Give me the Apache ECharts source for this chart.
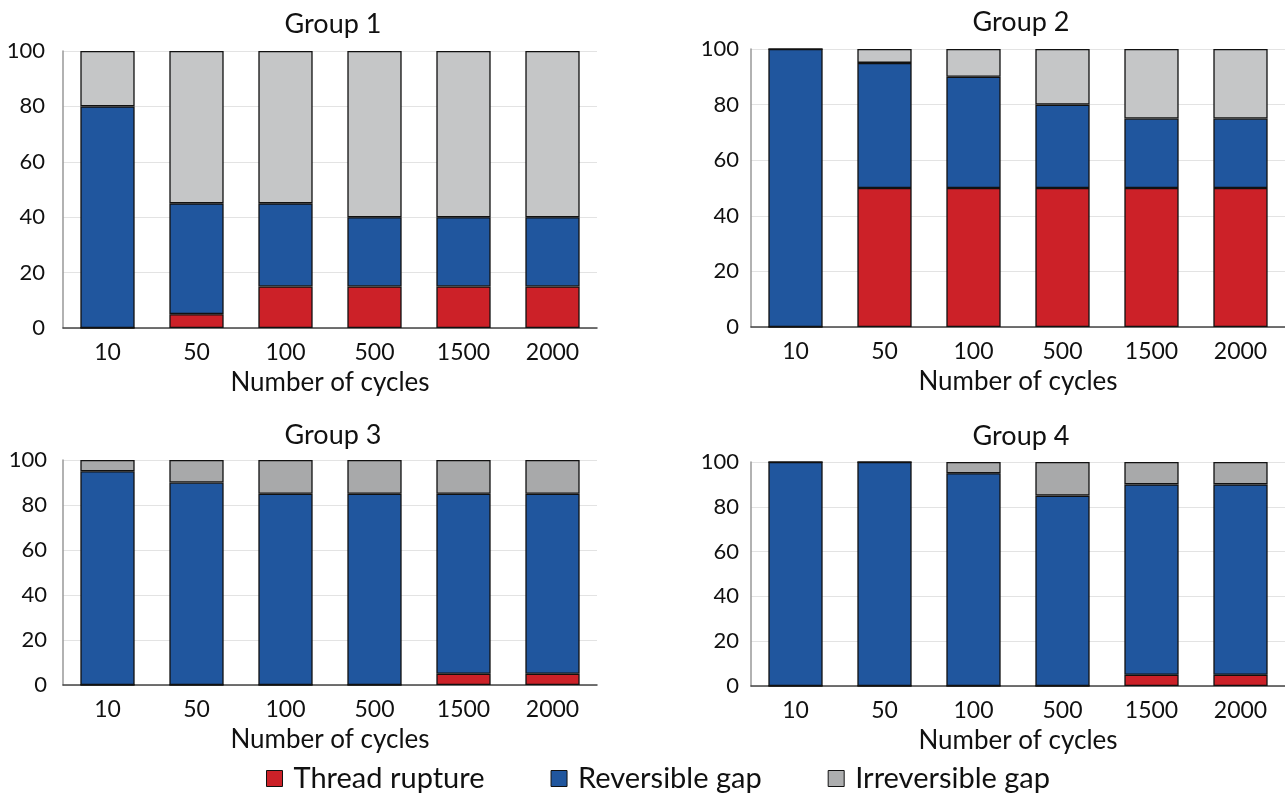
<!DOCTYPE html>
<html>
<head>
<meta charset="utf-8">
<script src="https://cdn.jsdelivr.net/npm/echarts@6/dist/echarts.min.js"></script>
<style>
html,body{margin:0;padding:0;background:#fff;}
#main{width:1285px;height:794px;}
</style>
</head>
<body>
<div id="main"></div>
<script>
const categories = ['10', '50', '100', '500', '1500', '2000'];
const groupTitles = ['Group 1', 'Group 2', 'Group 3', 'Group 4'];
const seriesNames = ['Thread rupture', 'Reversible gap', 'Irreversible gap'];
const yTicks = [0, 20, 40, 60, 80, 100];

const g1Rupture = [0, 5, 15, 15, 15, 15];
const g1Reversible = [80, 40, 30, 25, 25, 25];
const g1Irreversible = [20, 55, 55, 60, 60, 60];

const g2Rupture = [0, 50, 50, 50, 50, 50];
const g2Reversible = [100, 45, 40, 30, 25, 25];
const g2Irreversible = [0, 5, 10, 20, 25, 25];

const g3Rupture = [0, 0, 0, 0, 5, 5];
const g3Reversible = [95, 90, 85, 85, 80, 80];
const g3Irreversible = [5, 10, 15, 15, 15, 15];

const g4Rupture = [0, 0, 0, 0, 5, 5];
const g4Reversible = [100, 100, 95, 85, 85, 85];
const g4Irreversible = [0, 0, 5, 15, 10, 10];

const groups = [
  [g1Rupture, g1Reversible, g1Irreversible],
  [g2Rupture, g2Reversible, g2Irreversible],
  [g3Rupture, g3Reversible, g3Irreversible],
  [g4Rupture, g4Reversible, g4Irreversible]
];

const FONT = 'Lato';
const RED = '#cc2128';
const BLUE = '#20569e';
const GRAY_LIGHT = '#c5c6c7';
const GRAY_DARK = '#a8a9aa';
const grayPerGroup = [GRAY_LIGHT, GRAY_LIGHT, GRAY_DARK, GRAY_DARK];

const grids = [
  {left: 63, top: 51, width: 534, height: 277},
  {left: 751, top: 49, width: 534, height: 278},
  {left: 63, top: 460, width: 534, height: 225},
  {left: 751, top: 462, width: 534, height: 224}
];
const titleTops = [6, 4, 417, 418];
const yLabelMargins = [18, 12, 16, 12];

const option = {
  backgroundColor: '#fff',
  animation: false,
  textStyle: {fontFamily: FONT},
  title: groupTitles.map((t, i) => ({
    text: t,
    left: grids[i].left + grids[i].width / 2 - 2,
    top: titleTops[i],
    textAlign: 'center',
    textStyle: {fontFamily: FONT, fontSize: 27, fontWeight: 'normal', color: '#111'}
  })),
  legend: {
    top: 759,
    left: 261,
    icon: 'rect',
    itemWidth: 16,
    itemHeight: 16,
    itemGap: 66,
    textStyle: {fontFamily: FONT, fontSize: 29, color: '#111', padding: [0, 0, 0, 6]},
    data: [
      {name: seriesNames[0], itemStyle: {color: RED, borderColor: '#111', borderWidth: 1}},
      {name: seriesNames[1], itemStyle: {color: BLUE, borderColor: '#111', borderWidth: 1}},
      {name: seriesNames[2], itemStyle: {color: '#adaeaf', borderColor: '#111', borderWidth: 1}}
    ]
  },
  grid: grids,
  xAxis: grids.map((g, i) => ({
    type: 'category',
    gridIndex: i,
    data: categories,
    name: 'Number of cycles',
    nameLocation: 'middle',
    nameGap: 42,
    nameTextStyle: {fontFamily: FONT, fontSize: 26, color: '#111'},
    axisLine: {lineStyle: {color: '#444', width: 1.5}},
    axisTick: {show: false},
    axisLabel: {fontFamily: FONT, fontSize: 23, color: '#111', margin: 13}
  })),
  yAxis: grids.map((g, i) => ({
    type: 'value',
    gridIndex: i,
    min: 0,
    max: 100,
    interval: 20,
    axisLine: {show: true, lineStyle: {color: '#999', width: 1.5}},
    axisTick: {show: false},
    splitLine: {lineStyle: {color: '#e3e3e3', width: 1.2}},
    axisLabel: {fontFamily: FONT, fontSize: 22, color: '#111', margin: yLabelMargins[i],
      formatter: v => yTicks.includes(v) ? String(v) : ''}
  }))
};

const series = [];
groups.forEach((arrs, gi) => {
  const colors = [RED, BLUE, grayPerGroup[gi]];
  arrs.forEach((vals, si) => {
    series.push({
      name: seriesNames[si],
      type: 'bar',
      stack: 'g' + gi,
      xAxisIndex: gi,
      yAxisIndex: gi,
      barWidth: '61%',
      data: vals,
      itemStyle: {color: colors[si], borderColor: '#111', borderWidth: 1.3}
    });
  });
});
option.series = series;

const chart = echarts.init(document.getElementById('main'), null, {renderer: 'canvas'});
chart.setOption(option);
</script>
</body>
</html>
